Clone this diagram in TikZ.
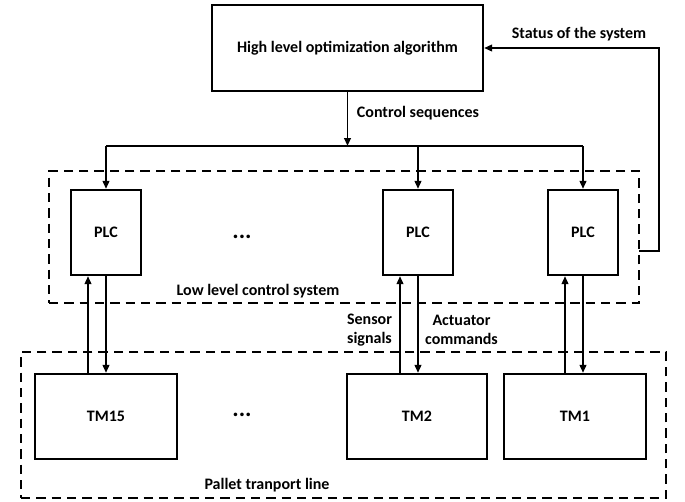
\documentclass[tikz,border=0pt]{standalone}
\usepackage{fontspec}
\setmainfont{Carlito}
\usetikzlibrary{arrows.meta,calc}

\begin{document}
\begin{tikzpicture}[x=0.75pt,y=0.75pt,yscale=-1,xscale=1,
  font=\fontsize{12}{14.5}\selectfont\bfseries,
  blk/.style={draw,line width=1.7pt,inner sep=0pt},
  dashbox/.style={draw,line width=1.7pt,dash pattern={on 7pt off 4.5pt},inner sep=0pt},
  arr/.style={line width=1.4pt,-{Triangle[length=6pt,width=5pt]}},
  ln/.style={line width=1.4pt}]
\useasboundingbox (0,0) rectangle (685,501);

%Dashed boxes
\node[dashbox,minimum width=442.5pt,minimum height=99pt] (low) at (344,237) {};
\node[dashbox,minimum width=483.75pt,minimum height=109.5pt] (line) at (343.5,425) {};

%Top block
\node[blk,minimum width=203.25pt,minimum height=64.5pt] (hl) at (347.5,48) {High level optimization algorithm};

%PLCs
\node[blk,minimum width=52.5pt,minimum height=63.75pt] (plcA) at (106,232.5) {PLC};
\node[blk,minimum width=52.5pt,minimum height=63.75pt] (plcB) at (418,232.5) {PLC};
\node[blk,minimum width=52.5pt,minimum height=63.75pt] (plcC) at (583,232.5) {PLC};

%Transport modules
\node[blk,minimum width=106.5pt,minimum height=63.75pt] (tmA) at (106,416.5) {TM15};
\node[blk,minimum width=105pt,minimum height=63.75pt] (tmB) at (417,416.5) {TM2};
\node[blk,minimum width=106.5pt,minimum height=63.75pt] (tmC) at (575,416.5) {TM1};

%Control sequences
\coordinate (bus) at (347.5,146);
\draw[arr] (hl) -- (bus);
\draw[ln] (plcA.north |- bus) -- (plcC.north |- bus);
\foreach \p in {plcA,plcB,plcC}
  \draw[arr] (\p.north |- bus) -- (\p.north);

%PLC <-> TM
\foreach \p/\t in {plcA/tmA,plcB/tmB,plcC/tmC}{
  \draw[arr] (\p.south) -- (\p.south |- \t.north);
  \draw[arr] ($(\p.south |- \t.north)+(-18,0)$) -- ($(\p.south)+(-18,0)$);
}

%Status of the system
\coordinate (st) at (639,251);
\draw[arr] (st) -- (659,251) |- (hl.east);

% Text Node
\node (cs) at (418,113) {Control sequences};
% Text Node
\node (sts) at (579,34) {Status of the system};
% Text Node
\node (lls) at (258,291) {Low level control system};
% Text Node
\node (ptl) at (267,485) {Pallet tranport line};
% Text Node
\node[align=center] (sen) at (369.5,330) {Sensor\\signals};
% Text Node
\node[align=center] (act) at (461.5,330) {Actuator\\commands};
% Text Node
\node[font=\fontsize{18}{18}\selectfont\bfseries] (dotsA) at (242,237) {...};
% Text Node
\node[font=\fontsize{18}{18}\selectfont\bfseries] (dotsB) at (242,415) {...};

\end{tikzpicture}
\end{document}
